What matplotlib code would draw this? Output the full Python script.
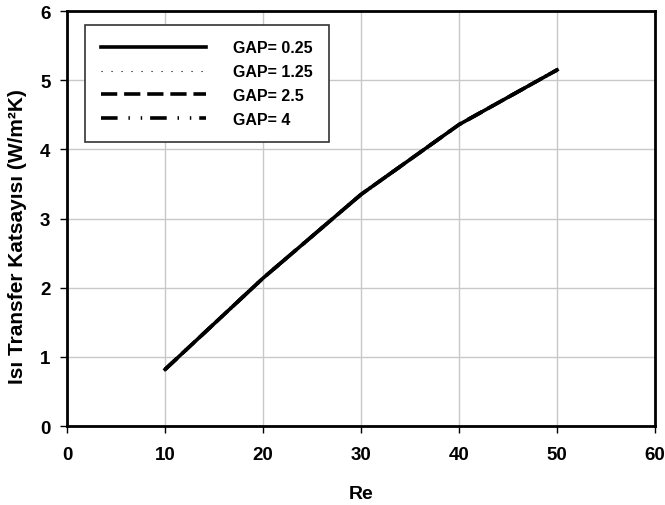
import matplotlib
matplotlib.use('Agg')
import matplotlib.pyplot as plt

plt.rcParams['font.family'] = ['Liberation Sans', 'DejaVu Sans']
plt.rcParams['font.weight'] = 'bold'

# Veriler
re = [10, 20, 30, 40, 50]
gap_labels = ['GAP= 0.25', 'GAP= 1.25', 'GAP= 2.5', 'GAP= 4']
h_025 = [0.82, 2.14, 3.35, 4.36, 5.15]
h_125 = [0.82, 2.14, 3.35, 4.36, 5.15]
h_25 = [0.82, 2.14, 3.35, 4.36, 5.15]
h_4 = [0.82, 2.14, 3.35, 4.36, 5.15]

x_ticks = [0, 10, 20, 30, 40, 50, 60]
y_ticks = [0, 1, 2, 3, 4, 5, 6]

fig = plt.figure(figsize=(6.65, 5.06), dpi=100)
ax = fig.add_axes([0.101, 0.156, 0.884, 0.820])

ax.plot(re, h_4, color='black', lw=2.6, linestyle=(0, (4.6, 3, 0.4, 3, 0.4, 2.2)), label=gap_labels[3])
ax.plot(re, h_25, color='black', lw=2.6, linestyle=(0, (4.5, 1.9)), label=gap_labels[2])
ax.plot(re, h_125, color='black', lw=0.8, linestyle=(0, (1, 8)), label=gap_labels[1])
ax.plot(re, h_025, color='black', lw=2.6, label=gap_labels[0])

ax.set_xlim(0, 60)
ax.set_ylim(0, 6)
ax.set_xticks(x_ticks)
ax.set_yticks(y_ticks)
ax.tick_params(direction='out', length=5, width=1, labelsize=13.5)
ax.tick_params(axis='x', pad=9)
ax.tick_params(axis='y', pad=7)
for lab in ax.get_xticklabels() + ax.get_yticklabels():
    lab.set_fontweight('bold')

ax.grid(True, color='#c8c8c8', lw=1)
ax.set_axisbelow(True)

for side in ['left', 'bottom', 'top', 'right']:
    ax.spines[side].set_linewidth(2)
    ax.spines[side].set_color('black')

ax.set_xlabel('Re', fontsize=14, fontweight='bold', labelpad=16)
ax.set_ylabel('Isı Transfer Katsayısı (W/m²K)', fontsize=15, fontweight='bold')
ax.yaxis.set_label_coords(-0.068, 0.46)

# Lejand (sıra: 0.25, 1.25, 2.5, 4)
handles, labels = ax.get_legend_handles_labels()
order = [3, 2, 1, 0]
leg = ax.legend([handles[i] for i in order], [labels[i] for i in order],
                loc='upper left', bbox_to_anchor=(0.031, 0.967),
                fancybox=False, framealpha=1, edgecolor='#333333',
                handlelength=6.6, handletextpad=1.7, labelspacing=0.55,
                borderpad=0.97, borderaxespad=0, prop={'size': 11.5, 'weight': 'bold'})
leg.get_frame().set_linewidth(1.2)

fig.savefig('out.png', dpi=100)
